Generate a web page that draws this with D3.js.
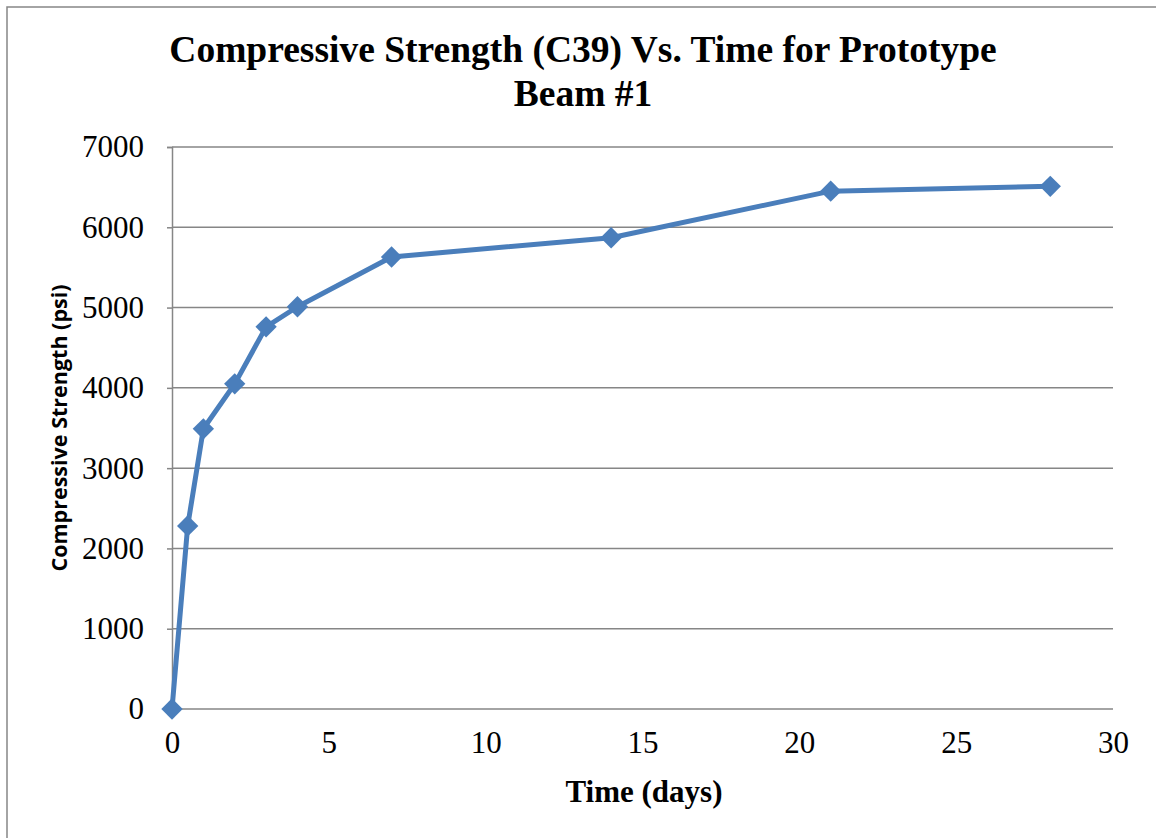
<!DOCTYPE html>
<html>
<head>
<meta charset="utf-8">
<script src="https://cdn.jsdelivr.net/npm/d3@7"></script>
<style>
  html, body { margin: 0; padding: 0; background: #fff; }
  svg { display: block; }
</style>
</head>
<body>
<svg id="chart" width="1156" height="838"></svg>
<script>
// Cylinder test results (ASTM C39) for prototype beam #1
const days = [0, 0.5, 1, 2, 3, 4, 7, 14, 21, 28];
const strengthPsi = [0, 2280, 3490, 4050, 4760, 5010, 5630, 5870, 6450, 6510];
const xTicks = [0, 5, 10, 15, 20, 25, 30];
const yTicks = [0, 1000, 2000, 3000, 4000, 5000, 6000, 7000];
const titleLines = ["Compressive Strength (C39) Vs. Time for Prototype", "Beam #1"];
const xTitle = "Time (days)";
const yTitle = "Compressive Strength (psi)";

const points = days.map((d, i) => ({ x: d, y: strengthPsi[i] }));

const svg = d3.select("#chart");
const W = 1156, H = 838;
const plot = { left: 172, right: 1113, top: 147, bottom: 709 };
const gridColor = "#868686";
const lineColor = "#4A7EBB";

// outer chart frame
svg.append("rect")
  .attr("x", 7).attr("y", 7)
  .attr("width", W + 20).attr("height", H + 20)
  .attr("fill", "#fff")
  .attr("stroke", gridColor).attr("stroke-width", 1.5);

const x = d3.scaleLinear().domain([0, 30]).range([plot.left, plot.right]);
const y = d3.scaleLinear().domain([0, 7000]).range([plot.bottom, plot.top]);

// horizontal gridlines
svg.append("g")
  .selectAll("line")
  .data(yTicks)
  .join("line")
  .attr("x1", plot.left).attr("x2", plot.right)
  .attr("y1", d => y(d)).attr("y2", d => y(d))
  .attr("stroke", gridColor).attr("stroke-width", 1.5);

// y axis with outward ticks
const yAxis = svg.append("g")
  .attr("transform", `translate(${plot.left},0)`)
  .call(d3.axisLeft(y).tickValues(yTicks).tickSize(5).tickPadding(23).tickFormat(d3.format("d")));
yAxis.select(".domain").attr("stroke", gridColor).attr("stroke-width", 1.5);
yAxis.selectAll(".tick line").attr("stroke", gridColor).attr("stroke-width", 1.5);
yAxis.selectAll(".tick text")
  .attr("fill", "#000")
  .style("font-family", "'Liberation Serif', 'Times New Roman', serif")
  .style("font-size", "31px");

// x axis labels (no tick marks, baseline is the zero gridline)
const xAxis = svg.append("g")
  .attr("transform", `translate(0,${plot.bottom})`)
  .call(d3.axisBottom(x).tickValues(xTicks).tickSize(0).tickPadding(22).tickFormat(d3.format("d")));
xAxis.select(".domain").remove();
xAxis.selectAll(".tick text")
  .attr("fill", "#000")
  .style("font-family", "'Liberation Serif', 'Times New Roman', serif")
  .style("font-size", "31px");

// series line
svg.append("path")
  .datum(points)
  .attr("fill", "none")
  .attr("stroke", lineColor)
  .attr("stroke-width", 5)
  .attr("stroke-linejoin", "round")
  .attr("d", d3.line().x(d => x(d.x)).y(d => y(d.y)));

// diamond markers
const diamond = d3.symbol().type(d3.symbolDiamond2).size(290);
svg.append("g")
  .selectAll("path")
  .data(points)
  .join("path")
  .attr("transform", d => `translate(${x(d.x)},${y(d.y)})`)
  .attr("d", diamond)
  .attr("fill", lineColor);

// title
const title = svg.append("text")
  .attr("text-anchor", "middle")
  .style("font-family", "'Liberation Serif', 'Times New Roman', serif")
  .style("font-weight", "bold")
  .style("font-size", "37.5px")
  .attr("fill", "#000");
titleLines.forEach((t, i) => {
  title.append("tspan").attr("x", 583).attr("y", 62 + i * 44).text(t);
});

// axis titles
svg.append("text")
  .attr("x", 644).attr("y", 802)
  .attr("text-anchor", "middle")
  .style("font-family", "'Liberation Serif', 'Times New Roman', serif")
  .style("font-weight", "bold")
  .style("font-size", "31px")
  .attr("fill", "#000")
  .text(xTitle);

svg.append("text")
  .attr("transform", "translate(67,428) rotate(-90)")
  .attr("text-anchor", "middle")
  .style("font-family", "'Open Sans', 'Liberation Sans', sans-serif")
  .style("font-weight", "bold")
  .style("font-size", "21.5px")
  .attr("fill", "#000")
  .text(yTitle);
</script>
</body>
</html>
